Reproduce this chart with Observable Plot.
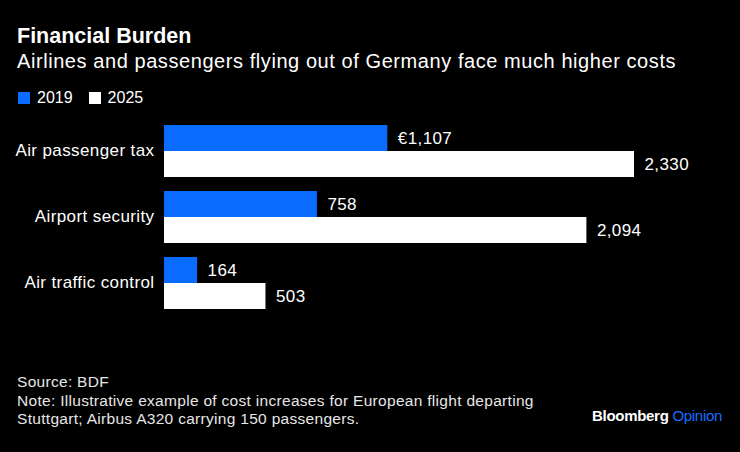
<!DOCTYPE html>
<html>
<head>
<meta charset="utf-8">
<script src="https://cdn.jsdelivr.net/npm/d3@7"></script>
<script src="https://cdn.jsdelivr.net/npm/@observablehq/plot@0.6"></script>
<style>
  html, body { margin: 0; padding: 0; background: #000; }
  body { width: 740px; height: 452px; overflow: hidden; font-family: "Liberation Sans", Arial, sans-serif; color: #fff; }
  #title { position: absolute; left: 17px; top: 24px; font-size: 21.5px; font-weight: bold; letter-spacing: 0px; }
  #subtitle { position: absolute; left: 17px; top: 50px; font-size: 20px; letter-spacing: 0.57px; }
  #legend { position: absolute; left: 18px; top: 89px; font-size: 16px; display: flex; align-items: center; }
  #legend .item { display: flex; align-items: center; margin-right: 16px; }
  #legend .sw { width: 12px; height: 12px; margin-right: 7px; }
  #chart { position: absolute; left: 0; top: 118px; }
  #footer { position: absolute; left: 17px; top: 373px; font-size: 15.5px; line-height: 18.5px; color: #e6e6e6; letter-spacing: 0.3px; }
  #brand { position: absolute; right: 18px; top: 407px; font-size: 15px; font-weight: bold; letter-spacing: -0.3px; }
  #brand span { color: #1a6dff; font-weight: normal; }
</style>
</head>
<body>
<div id="title">Financial Burden</div>
<div id="subtitle">Airlines and passengers flying out of Germany face much higher costs</div>
<div id="legend"></div>
<div id="chart"></div>
<div id="footer">Source: BDF<br>Note: Illustrative example of cost increases for European flight departing<br>Stuttgart; Airbus A320 carrying 150 passengers.</div>
<div id="brand">Bloomberg <span>Opinion</span></div>
<script>
const categories = ["Air passenger tax", "Airport security", "Air traffic control"];
const years = ["2019", "2025"];
const values2019 = [1107, 758, 164];
const values2025 = [2330, 2094, 503];
const colors = ["#0a6cff", "#ffffff"];

const data = [];
categories.forEach((c, i) => {
  data.push({category: c, year: years[0], value: values2019[i]});
  data.push({category: c, year: years[1], value: values2025[i]});
});
const fmt = d3.format(",");
data.forEach((d, i) => { d.label = (i === 0 ? "€" : "") + fmt(d.value); });

const legend = document.getElementById("legend");
years.forEach((y, i) => {
  const it = document.createElement("div");
  it.className = "item";
  it.innerHTML = `<div class="sw" style="background:${colors[i]}"></div>${y}`;
  legend.appendChild(it);
});

const chart = Plot.plot({
  width: 740,
  height: 201,
  marginLeft: 164,
  marginRight: 106,
  marginTop: 6,
  marginBottom: 10,
  style: {background: "transparent", color: "#fff", fontFamily: "Liberation Sans, Arial, sans-serif", fontSize: "17px", letterSpacing: "0.4px"},
  x: {domain: [0, 2330], axis: null},
  y: {domain: years, axis: null, padding: 0},
  fy: {domain: categories, paddingInner: 0.197, paddingOuter: 0, axis: "left", label: null, tickSize: 0, tickPadding: 10},
  color: {domain: years, range: colors},
  marks: [
    Plot.barX(data, {x: "value", y: "year", fy: "category", fill: "year"}),
    Plot.text(data, {x: "value", y: "year", fy: "category", text: "label", dx: 10, textAnchor: "start", fill: "#fff", fontSize: 17})
  ]
});
document.getElementById("chart").appendChild(chart);
</script>
</body>
</html>
